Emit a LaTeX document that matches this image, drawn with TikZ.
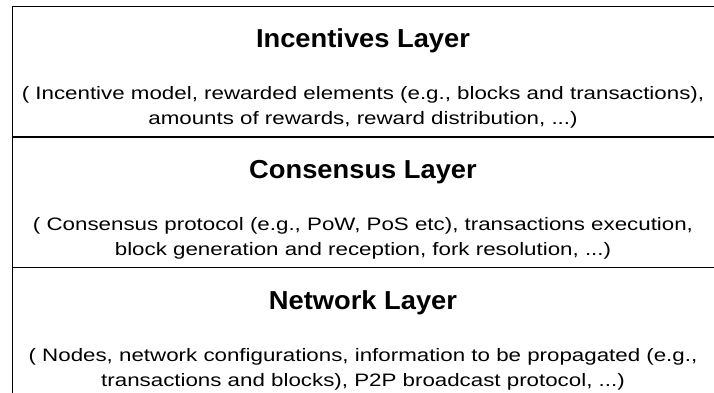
\documentclass[tikz,border=0pt]{standalone}
\usepackage{fontspec}
\setmainfont{Liberation Sans}
\usetikzlibrary{positioning}
\tikzset{layerbox/.style={draw, line width=1.5pt, rectangle, anchor=north west, minimum width=730pt, minimum height=131pt, inner sep=0pt}}
\tikzset{layertitle/.style={anchor=base, inner sep=0pt, xscale=1.05, font=\bfseries\fontsize{26}{30}\selectfont}}
\tikzset{layerdesc/.style={anchor=base, inner sep=0pt, align=center, xscale=1.24, font=\fontsize{18}{25}\selectfont}}

\begin{document}
\begin{tikzpicture}[x=1pt,y=1pt]
{
\useasboundingbox (0,0) rectangle (714,-392);
\clip (0,0) rectangle (714,-392);
% the three layers
\node[layerbox] (incentives) at (11.5,-5.5) {};
\node[layerbox] (consensus) at (11.5,-135.5) {};
\node[layerbox] (network) at (11.5,-266.5) {};
% incentives layer
\node[layertitle] (incentivestitle) at (363,-47) {Incentives Layer};
\node[layerdesc] (incentivesdesc) at (363,-124.5) {( Incentive model, rewarded elements (e.g., blocks and transactions),\\ amounts of rewards, reward distribution, ...)};
% consensus layer
\node[layertitle] (consensustitle) at (363,-178) {Consensus Layer};
\node[layerdesc] (consensusdesc) at (363,-255.5) {( Consensus protocol (e.g., PoW, PoS etc), transactions execution,\\ block generation and reception, fork resolution, ...)};
% network layer
\node[layertitle] (networktitle) at (363,-309) {Network Layer};
\node[layerdesc] (networkdesc) at (363,-386.5) {( Nodes, network configurations, information to be propagated (e.g.,\\ transactions and blocks), P2P broadcast protocol, ...)};
}
\end{tikzpicture}
\end{document}
